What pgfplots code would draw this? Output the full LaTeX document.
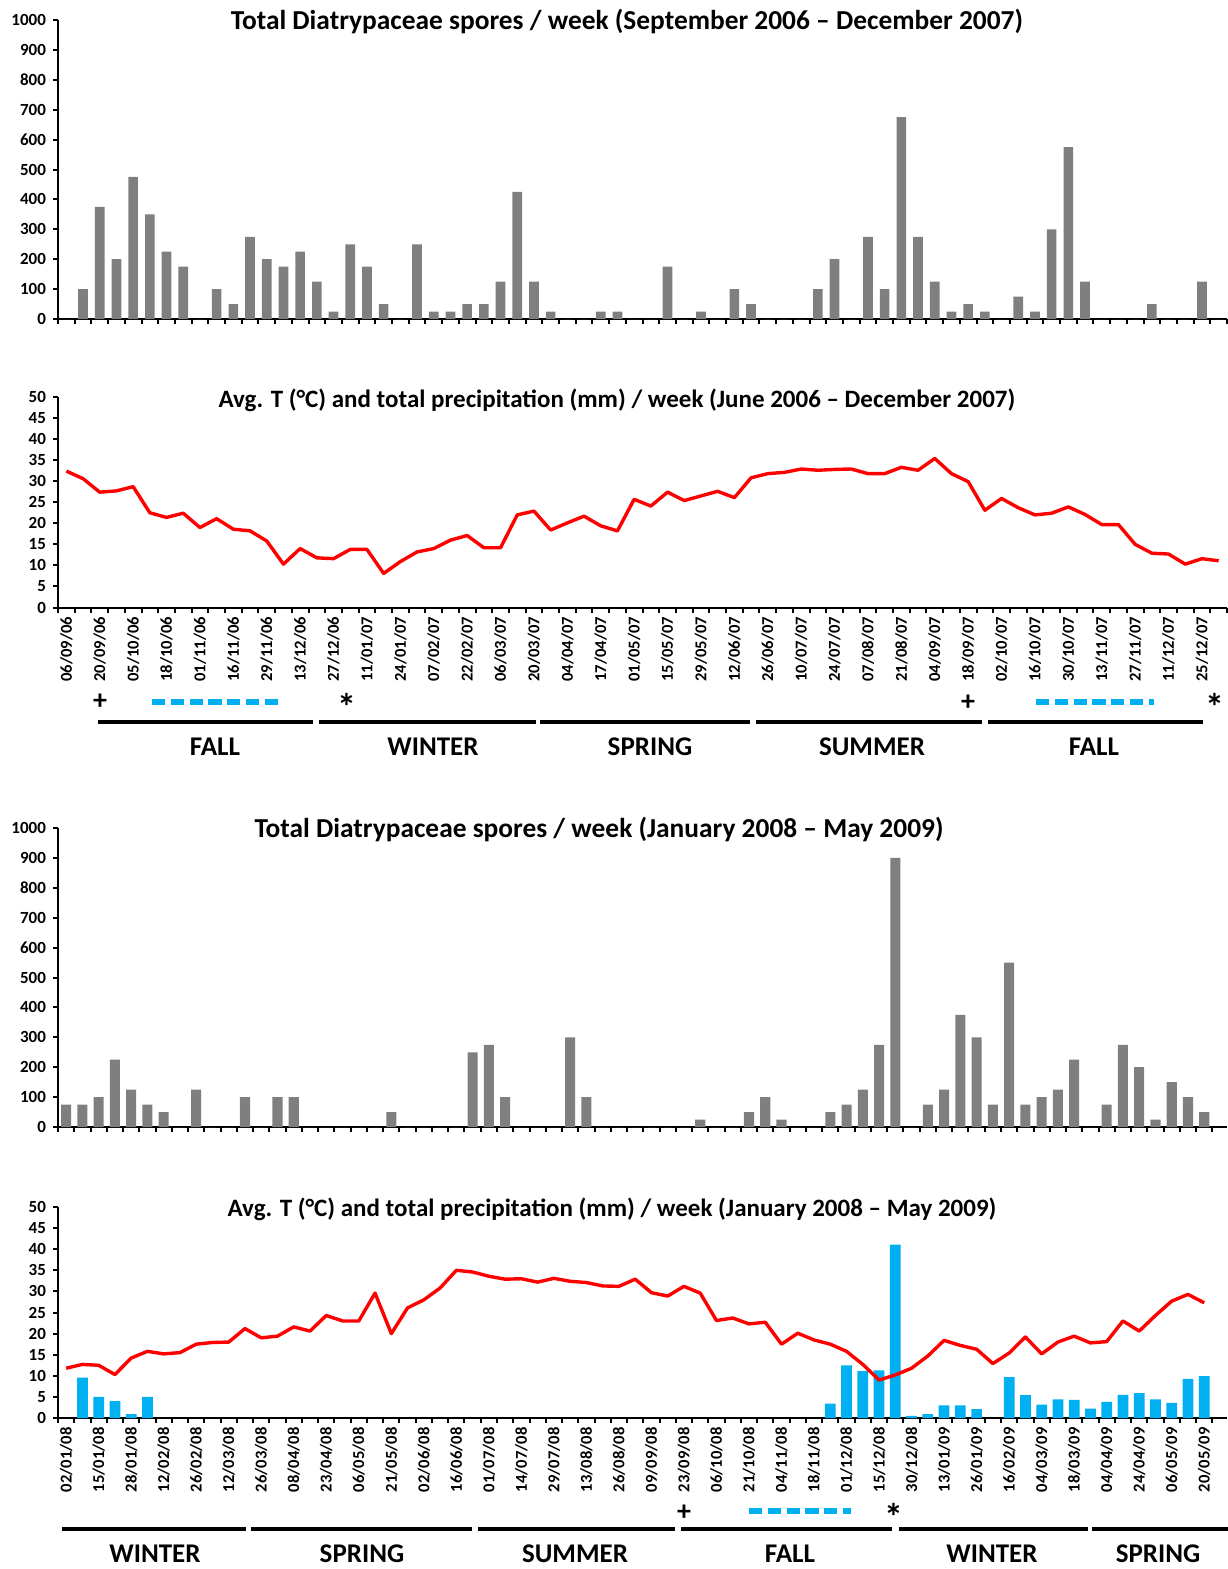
\documentclass[border=0pt]{standalone}
\usepackage{pgfplots}
\pgfplotsset{compat=1.18}
\usepackage{fontspec}
\setmainfont{Carlito}
\definecolor{bargray}{RGB}{127,127,127}
\definecolor{precip}{RGB}{0,176,240}
\definecolor{tred}{RGB}{255,0,0}
\pgfplotsset{
  base/.style={
    scale only axis, width=584.5pt,
    axis x line*=bottom, axis y line*=left,
    axis line style={line width=1pt},
    tick style={line width=1pt, black},
    tick align=outside, major tick length=2.5pt,
    /pgf/number format/assume math mode=true,
    /pgf/number format/set thousands separator={},
    scaled y ticks=false,
    yticklabel style={font=\bfseries\fontsize{8.5}{10}\selectfont},
    xticklabel style={font=\bfseries\fontsize{8.3}{10}\selectfont, rotate=90, anchor=east, inner xsep=4.5pt},
    enlargelimits=false,
    clip=false,
  },
}
\begin{document}
\begin{tikzpicture}
\path[use as bounding box] (0,0) rectangle (613.5pt,-784.5pt);

% Panel 1
\begin{axis}[base, at={(29pt,-159.5pt)}, anchor=south west, height=149.5pt,
  xmin=-0.5, xmax=69.5, ymin=0, ymax=1000, ytick={0,100,...,1000},
  xtick={-0.5,0.5,...,69.5}, xticklabels={}]
\addplot[ybar, bar width=0.58, fill=bargray, draw=none] coordinates {
(0,0)(1,100)(2,375)(3,200)(4,475)(5,350)(6,225)(7,175)(8,0)(9,100)
(10,50)(11,275)(12,200)(13,175)(14,225)(15,125)(16,25)(17,250)(18,175)(19,50)
(20,0)(21,250)(22,25)(23,25)(24,50)(25,50)(26,125)(27,425)(28,125)(29,25)
(30,0)(31,0)(32,25)(33,25)(34,0)(35,0)(36,175)(37,0)(38,25)(39,0)
(40,100)(41,50)(42,0)(43,0)(44,0)(45,100)(46,200)(47,0)(48,275)(49,100)
(50,675)(51,275)(52,125)(53,25)(54,50)(55,25)(56,0)(57,75)(58,25)(59,300)
(60,575)(61,125)(62,0)(63,0)(64,0)(65,50)(66,0)(67,0)(68,125)(69,0)};
\end{axis}

% Panel 2
\begin{axis}[base, at={(29pt,-303.75pt)}, anchor=south west, height=105.25pt,
  xmin=-0.5, xmax=69.5, ymin=0, ymax=50, ytick={0,5,...,50},
  xtick={-0.5,0.5,...,69.5}, xticklabels={},
  extra x ticks={0,2,...,68},
  extra x tick labels={06/09/06,20/09/06,05/10/06,18/10/06,01/11/06,16/11/06,29/11/06,13/12/06,27/12/06,11/01/07,24/01/07,07/02/07,22/02/07,06/03/07,20/03/07,04/04/07,17/04/07,01/05/07,15/05/07,29/05/07,12/06/07,26/06/07,10/07/07,24/07/07,07/08/07,21/08/07,04/09/07,18/09/07,02/10/07,16/10/07,30/10/07,13/11/07,27/11/07,11/12/07,25/12/07},
  extra x tick style={major tick length=0pt, tick style={draw=none}}]
\addplot[tred, line width=1.7pt, line join=round, mark=none] coordinates {
(0,32.4)(1,30.6)(2,27.4)(3,27.7)(4,28.7)(5,22.5)(6,21.4)(7,22.4)(8,19.0)(9,21.1)
(10,18.6)(11,18.2)(12,15.8)(13,10.3)(14,14.0)(15,11.8)(16,11.6)(17,13.8)(18,13.8)(19,8.1)
(20,10.9)(21,13.2)(22,14.0)(23,16.0)(24,17.1)(25,14.2)(26,14.2)(27,22.0)(28,22.9)(29,18.4)
(30,20.1)(31,21.7)(32,19.4)(33,18.2)(34,25.7)(35,24.1)(36,27.4)(37,25.4)(38,26.5)(39,27.6)
(40,26.1)(41,30.8)(42,31.8)(43,32.1)(44,32.9)(45,32.6)(46,32.8)(47,32.9)(48,31.8)(49,31.8)
(50,33.3)(51,32.6)(52,35.4)(53,31.8)(54,29.9)(55,23.1)(56,25.9)(57,23.7)(58,22.0)(59,22.4)
(60,23.9)(61,22.1)(62,19.7)(63,19.7)(64,15.0)(65,12.9)(66,12.7)(67,10.3)(68,11.6)(69,11.1)};
\end{axis}

% Panel 3
\begin{axis}[base, at={(29pt,-563.5pt)}, anchor=south west, height=149.5pt,
  xmin=-0.5, xmax=71.4, ymin=0, ymax=1000, ytick={0,100,...,1000},
  xtick={-0.5,0.5,...,70.5}, xticklabels={}]
\addplot[ybar, bar width=0.62, fill=bargray, draw=none] coordinates {
(0,75)(1,75)(2,100)(3,225)(4,125)(5,75)(6,50)(7,0)(8,125)(9,0)
(10,0)(11,100)(12,0)(13,100)(14,100)(15,0)(16,0)(17,0)(18,0)(19,0)
(20,50)(21,0)(22,0)(23,0)(24,0)(25,250)(26,275)(27,100)(28,0)(29,0)
(30,0)(31,300)(32,100)(33,0)(34,0)(35,0)(36,0)(37,0)(38,0)(39,25)
(40,0)(41,0)(42,50)(43,100)(44,25)(45,0)(46,0)(47,50)(48,75)(49,125)
(50,275)(51,900)(52,0)(53,75)(54,125)(55,375)(56,300)(57,75)(58,550)(59,75)
(60,100)(61,125)(62,225)(63,0)(64,75)(65,275)(66,200)(67,25)(68,150)(69,100)
(70,50)};
\end{axis}

% Panel 4
\begin{axis}[base, at={(29pt,-709pt)}, anchor=south west, height=105.5pt,
  xmin=-0.5, xmax=71.4, ymin=0, ymax=50, ytick={0,5,...,50},
  xtick={-0.5,0.5,...,70.5}, xticklabels={},
  extra x ticks={0,2,...,70},
  extra x tick labels={02/01/08,15/01/08,28/01/08,12/02/08,26/02/08,12/03/08,26/03/08,08/04/08,23/04/08,06/05/08,21/05/08,02/06/08,16/06/08,01/07/08,14/07/08,29/07/08,13/08/08,26/08/08,09/09/08,23/09/08,06/10/08,21/10/08,04/11/08,18/11/08,01/12/08,15/12/08,30/12/08,13/01/09,26/01/09,16/02/09,04/03/09,18/03/09,04/04/09,24/04/09,06/05/09,20/05/09},
  extra x tick style={major tick length=0pt, tick style={draw=none}}]
\addplot[ybar, bar width=0.66, fill=precip, draw=none] coordinates {
(1,9.6)(2,5.0)(3,4.0)(4,0.9)(5,5.0)
(47,3.4)(48,12.5)(49,11.1)(50,11.3)(51,41.1)(52,0.5)(53,0.9)(54,3.0)(55,3.0)(56,2.1)
(58,9.7)(59,5.4)(60,3.2)(61,4.4)(62,4.3)(63,2.2)(64,3.8)(65,5.5)(66,5.9)(67,4.4)(68,3.6)(69,9.3)(70,9.9)};
\addplot[tred, line width=1.7pt, line join=round, mark=none] coordinates {
(0,11.8)(1,12.7)(2,12.5)(3,10.3)(4,14.2)(5,15.8)(6,15.2)(7,15.5)(8,17.5)(9,17.9)
(10,18.0)(11,21.2)(12,19.0)(13,19.4)(14,21.6)(15,20.6)(16,24.3)(17,23.0)(18,23.0)(19,29.6)
(20,20.0)(21,26.1)(22,28.0)(23,30.8)(24,35.0)(25,34.6)(26,33.6)(27,32.9)(28,33.0)(29,32.2)
(30,33.1)(31,32.4)(32,32.1)(33,31.3)(34,31.2)(35,32.9)(36,29.7)(37,28.9)(38,31.2)(39,29.6)
(40,23.1)(41,23.7)(42,22.3)(43,22.7)(44,17.5)(45,20.1)(46,18.5)(47,17.5)(48,15.8)(49,12.7)
(50,9.0)(51,10.2)(52,11.8)(53,14.7)(54,18.4)(55,17.2)(56,16.3)(57,12.9)(58,15.4)(59,19.2)
(60,15.2)(61,18.0)(62,19.4)(63,17.8)(64,18.1)(65,23.0)(66,20.6)(67,24.3)(68,27.7)(69,29.3)
(70,27.3)};
\end{axis}

\begin{scope}[x=0.5pt,y=-0.5pt]
\tikzset{ttl/.style={font=\bfseries\fontsize{13.7}{16}\selectfont, inner sep=0pt},
         ttlb/.style={font=\bfseries\fontsize{12.5}{15}\selectfont, inner sep=0pt},
         sea/.style={font=\bfseries\fontsize{13.5}{16}\selectfont, inner sep=0pt},
         sym/.style={font=\bfseries\fontsize{14}{16}\selectfont, inner sep=0pt},
         ast/.style={font=\bfseries\fontsize{19}{20}\selectfont, inner sep=0pt, anchor=base},
         sl/.style={line width=2pt},
         bd/.style={precip, line width=2.6pt, dash pattern=on 6.6pt off 2.8pt}}
\node[ttl] at (627,21) {Total Diatrypaceae spores / week (September 2006 – December 2007)};
\node[ttlb] at (617,400) {Avg. T (°C) and total precipitation (mm) / week (June 2006 – December 2007)};
\node[ttl] at (599,829) {Total Diatrypaceae spores / week (January 2008 – May 2009)};
\node[ttlb] at (612,1209) {Avg. T (°C) and total precipitation (mm) / week (January 2008 – May 2009)};
% panel 2 annotations
\node[sym] at (100,702) {+};
\node[ast] at (347,720) {*};
\node[sym] at (968,703) {+};
\node[ast] at (1215,720) {*};
\draw[bd] (152,702) -- (282,702);
\draw[bd] (1036,702) -- (1154,702);
\draw[sl] (98,722) -- (313,722);
\draw[sl] (319,722) -- (536,722);
\draw[sl] (540,722) -- (750,722);
\draw[sl] (756,722) -- (982,722);
\draw[sl] (988,722) -- (1203,722);
\node[sea] at (215,747) {FALL};
\node[sea] at (433,747) {WINTER};
\node[sea] at (650,747) {SPRING};
\node[sea] at (872,747) {SUMMER};
\node[sea] at (1094,747) {FALL};
% panel 4 annotations
\node[sym] at (684,1513) {+};
\node[ast] at (894,1530) {*};
\draw[bd] (749,1511) -- (851,1511);
\draw[sl] (62,1529) -- (246,1529);
\draw[sl] (251,1529) -- (472,1529);
\draw[sl] (478,1529) -- (675,1529);
\draw[sl] (681,1529) -- (892,1529);
\draw[sl] (899,1529) -- (1088,1529);
\draw[sl] (1092,1529) -- (1230,1529);
\node[sea] at (155,1554) {WINTER};
\node[sea] at (362,1554) {SPRING};
\node[sea] at (575,1554) {SUMMER};
\node[sea] at (790,1554) {FALL};
\node[sea] at (992,1554) {WINTER};
\node[sea] at (1158,1554) {SPRING};
\end{scope}
\end{tikzpicture}
\end{document}
